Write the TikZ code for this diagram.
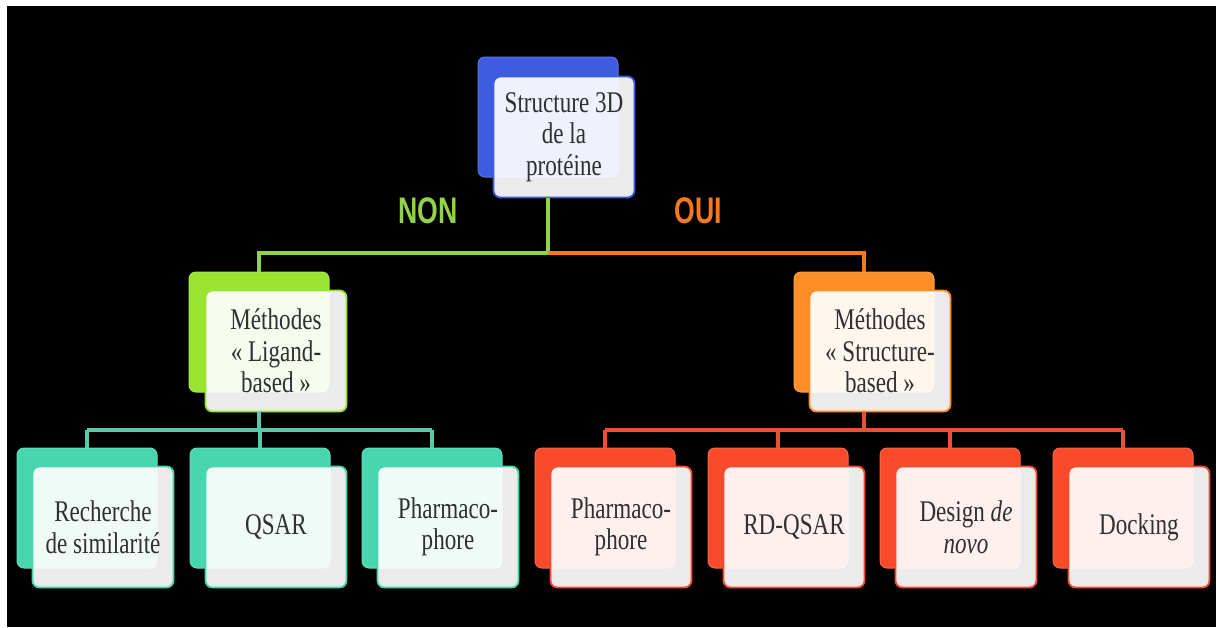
\documentclass[tikz,border=0pt]{standalone}
\usepackage{fontspec}
\setmainfont{Liberation Serif}[FakeStretch=0.77]
\newfontfamily\labelfont{Liberation Sans}[FakeStretch=0.72]
\usepackage{tikz}
\usetikzlibrary{positioning,calc}
\definecolor{TopBlue}{RGB}{62,92,224}
\definecolor{LigGreen}{RGB}{152,228,48}
\definecolor{StrOrange}{RGB}{255,142,38}
\definecolor{LeafTeal}{RGB}{72,214,174}
\definecolor{LeafRed}{RGB}{250,74,44}
\definecolor{NonGreen}{RGB}{146,210,74}
\definecolor{OuiOrange}{RGB}{244,122,34}
\definecolor{TealLine}{RGB}{88,202,170}
\definecolor{RedLine}{RGB}{236,80,50}
\definecolor{BoxText}{RGB}{48,48,48}
\tikzset{
  backbox/.style={draw=#1!85!white, fill=#1, line width=1pt, rounded corners=7pt,
    minimum width=140pt, minimum height=120pt, inner sep=0pt},
  frontbox/.style={draw=#1, line width=1.8pt, fill=white, fill opacity=0.92, text opacity=1,
    rounded corners=7pt, minimum width=141pt, minimum height=121pt, inner sep=0pt,
    align=center, text=BoxText, font=\fontsize{30}{31.5}\selectfont},
  link/.style={draw=#1, line width=3.4pt},
  answer/.style={font=\labelfont\bfseries\fontsize{37}{40}\selectfont, text=#1}
}

\begin{document}
\begin{tikzpicture}[x=1pt,y=-1pt]
  % frame
  \fill[white] (0,0) rectangle (1218,627);
  \fill[black] (7,6) rectangle (1216,627);
  \coordinate (midbus) at (0,253);
  \coordinate (leafbus) at (0,430);

  % root
  \node[backbox=TopBlue] (top-back) at (548,117) {};
  \node[frontbox=TopBlue] (top-front) at (564,137) {Structure 3D\\de la\\protéine};

  % the two families
  \node[backbox=LigGreen] (lig-back) at (259,332) {};
  \node[frontbox=LigGreen] (lig-front) at (276,351) {Méthodes\\« Ligand-\\based »};
  \node[backbox=StrOrange] (str-back) at (864,332) {};
  \node[frontbox=StrOrange] (str-front) at (880,351) {Méthodes\\« Structure-\\based »};

  \node[answer=NonGreen] (non) at (428,211) {NON};
  \node[answer=OuiOrange] (oui) at (698,211) {OUI};

  \draw[link=NonGreen] (top-back.center |- top-front.south) -- (top-back.center |- midbus) -| (lig-back.north);
  \draw[link=OuiOrange] (top-back.center |- midbus) -| (str-back.north);

  % leaves
  \foreach \cx/\nm/\col/\ln/\txt in {
      87/rs/LeafTeal/TealLine/{Recherche\\de similarité},
      260/qs/LeafTeal/TealLine/{QSAR},
      432/pt/LeafTeal/TealLine/{Pharmaco-\\phore},
      605/ps/LeafRed/RedLine/{Pharmaco-\\phore},
      778/rd/LeafRed/RedLine/{RD-QSAR},
      950/dn/LeafRed/RedLine/{Design \textit{de}\\\textit{novo}},
      1123/dk/LeafRed/RedLine/{Docking}} {
    \node[backbox=\col] (\nm-back) at (\cx,508) {};
    \node[frontbox=\col] (\nm-front) at (\cx+16,527) {\txt};
    \draw[link=\ln] (\nm-back.north) -- (\nm-back.north |- leafbus);
  }

  \draw[link=TealLine] (lig-back.center |- lig-front.south) -- (lig-back.center |- leafbus);
  \draw[link=TealLine] (rs-back.north |- leafbus) -- (pt-back.north |- leafbus);
  \draw[link=RedLine] (str-back.center |- str-front.south) -- (str-back.center |- leafbus);
  \draw[link=RedLine] (ps-back.north |- leafbus) -- (dk-back.north |- leafbus);
\end{tikzpicture}
\end{document}
